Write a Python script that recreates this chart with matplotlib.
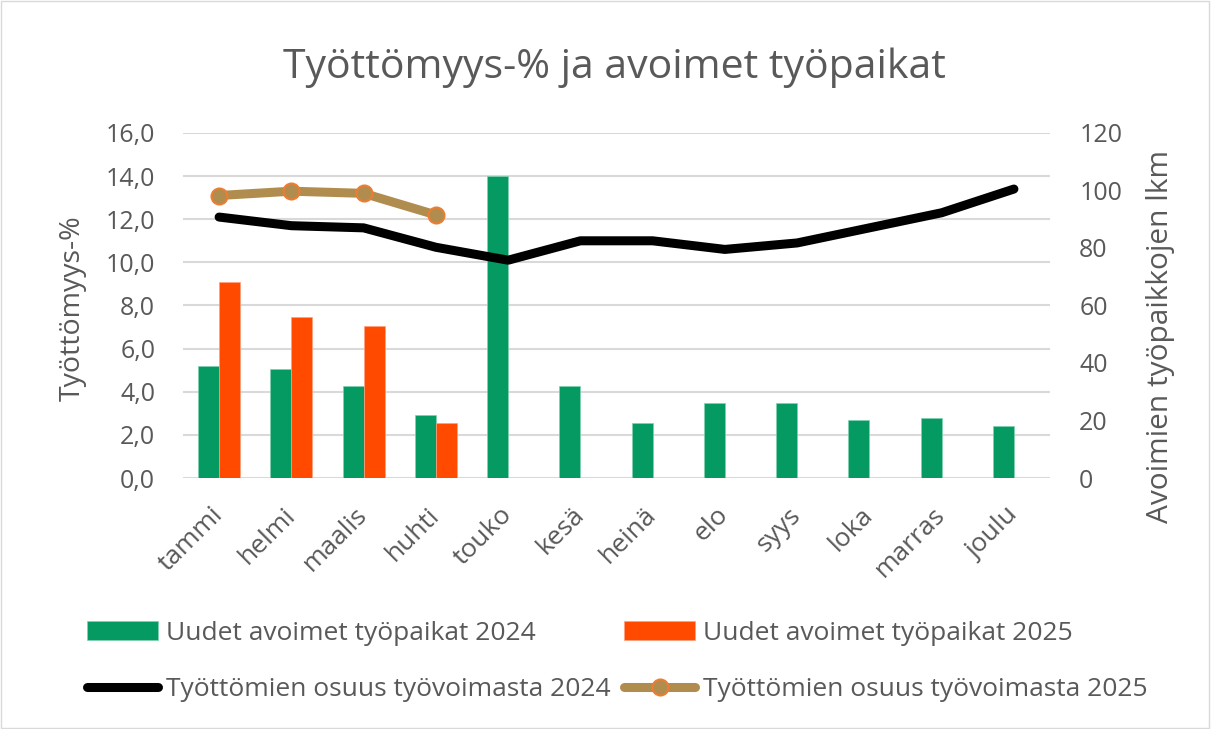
import matplotlib.pyplot as plt
import numpy as np
from matplotlib.patches import Rectangle

plt.rcParams['font.family'] = ['Open Sans', 'DejaVu Sans']

# data
months = ['tammi', 'helmi', 'maalis', 'huhti', 'touko', 'kesä',
          'heinä', 'elo', 'syys', 'loka', 'marras', 'joulu']
vacancies_2024 = [39, 38, 32, 22, 105, 32, 19, 26, 26, 20, 21, 18]
vacancies_2025 = [68, 56, 53, 19]
unemp_2024 = [12.1, 11.7, 11.6, 10.7, 10.1, 11.0, 11.0, 10.6, 10.9, 11.6, 12.3, 13.4]
unemp_2025 = [13.1, 13.3, 13.2, 12.2]
left_ticks = [0, 2, 4, 6, 8, 10, 12, 14, 16]
right_ticks = [0, 20, 40, 60, 80, 100, 120]

text_col = '#595959'
grid_col = '#D9D9D9'
green = '#069A63'
orange = '#FF4A00'
tan = '#B08D4F'

fig = plt.figure(figsize=(12.11, 7.29), dpi=100)
ax = fig.add_axes([0.1511, 0.3443, 0.7160, 0.4733])
ax2 = ax.twinx()

x = np.arange(len(months))
w = 0.29

# bars go on the right axis, drawn below the lines
ax2.bar(x - w / 2, vacancies_2024, w, color=green, edgecolor='#7FD1B0', linewidth=0.5,
        label='Uudet avoimet työpaikat 2024', zorder=2)
ax2.bar(x[:len(vacancies_2025)] + w / 2, vacancies_2025, w, color=orange, edgecolor='#FF9F80',
        linewidth=0.5, label='Uudet avoimet työpaikat 2025', zorder=2)
ax2.set_ylim(0, 120)
ax2.set_yticks(right_ticks)

# lines on the left axis; left axis on top
ax.set_zorder(ax2.get_zorder() + 1)
ax.patch.set_visible(False)
l1, = ax.plot(x, unemp_2024, color='black', lw=6.5, solid_capstyle='round',
              solid_joinstyle='round', label='Työttömien osuus työvoimasta 2024', zorder=3)
l2, = ax.plot(x[:len(unemp_2025)], unemp_2025, color=tan, lw=6.5, marker='o', markersize=11.5,
              markerfacecolor=tan, markeredgecolor='#ED7D31', markeredgewidth=1.5,
              solid_capstyle='round', solid_joinstyle='round',
              label='Työttömien osuus työvoimasta 2025', zorder=4)
ax.set_ylim(0, 16)
ax.set_xlim(-0.5, len(months) - 0.5)
ax.set_yticks(left_ticks)
ax.set_yticklabels([f'{v:.1f}'.replace('.', ',') for v in left_ticks])

# gridlines drawn on the back axis
for v in left_ticks:
    ax2.axhline(v * 7.5, color=grid_col, lw=1.5, zorder=0)

for a in (ax, ax2):
    for s in a.spines.values():
        s.set_visible(False)
    a.tick_params(length=0, colors=text_col, labelsize=18)

ax.tick_params(axis='y', pad=20)
ax2.tick_params(axis='y', pad=21)
ax.set_xticks(x)
ax.set_xticklabels(months, rotation=45, ha='right', va='center', rotation_mode='anchor',
                   fontsize=19)
ax.tick_params(axis='x', pad=24)

fig.text(0.060, 0.5775, 'Työttömyys-%', rotation=90, ha='center', va='center',
         fontsize=20.5, color=text_col)
fig.text(0.958, 0.539, 'Avoimien työpaikkojen lkm', rotation=90, ha='center', va='center',
         fontsize=21.5, color=text_col)

fig.text(0.507, 0.893, 'Työttömyys-% ja avoimet työpaikat', ha='center', va='baseline',
         fontsize=29.5, color=text_col)

h_bars, _ = ax2.get_legend_handles_labels()
handles = [h_bars[0], l1, h_bars[1], l2]
labels = [h.get_label() for h in handles]
fig.legend(handles, labels, ncol=2, loc='center', bbox_to_anchor=(0.51, 0.0926),
           frameon=False, fontsize=19, labelcolor=text_col, handlelength=2.7,
           handletextpad=0.3, columnspacing=0.5, labelspacing=1.2)

fig.patches.append(Rectangle((0.001, 0.001), 0.997, 0.997, transform=fig.transFigure,
                             fill=False, edgecolor=grid_col, lw=1))

fig.savefig('out.png', dpi=100)
